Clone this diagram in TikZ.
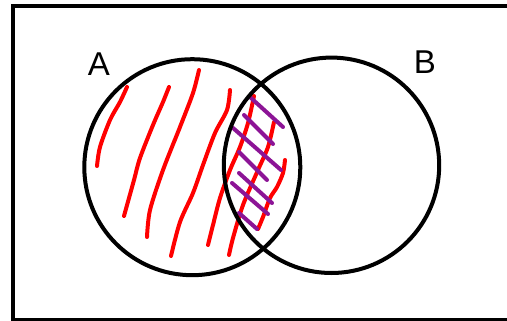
\documentclass[tikz,border=0pt]{standalone}
\usepackage{fontspec}
\setmainfont{Liberation Sans}
\definecolor{hatchred}{RGB}{255,0,0}
\definecolor{hatchpurple}{RGB}{140,20,150}
\begin{document}
\begin{tikzpicture}[x=1pt,y=-1pt,
  outline/.style={line width=4pt,black},
  redstroke/.style={line width=4pt,hatchred,line cap=round,line join=round},
  purplestroke/.style={line width=4pt,hatchpurple,line cap=round},
  setlabel/.style={font=\fontsize{33}{33}\selectfont,inner sep=0pt}]
\useasboundingbox (0,0) rectangle (507,321);
\clip (0,0) rectangle (507,321);
\fill[white] (0,0) rectangle (507,321);
% frame
\draw[outline] (12.5,6.5) rectangle (530,319.5);
% red hatching
\draw[redstroke] plot[smooth] coordinates {(127,87) (120,102) (110,120) (100,147) (97,166)};
\draw[redstroke] plot[smooth] coordinates {(169,87) (163,102) (153,125) (140,158) (134,180) (124,216)};
\draw[redstroke] plot[smooth] coordinates {(199,70) (193,93) (180,127) (163,170) (150,210) (147,237)};
\draw[redstroke] plot[smooth] coordinates {(230,90) (227,110) (215,133) (203,165) (193,193) (180,222) (171,256)};
\draw[redstroke] plot[smooth] coordinates {(254,96) (248,123) (240,147) (230,170) (220,198) (213,225) (208,245)};
\draw[redstroke] plot[smooth] coordinates {(274,122) (268,147) (258,170) (243,205) (233,238) (229,255)};
\draw[redstroke] plot[smooth] coordinates {(285,160) (283,173) (277,187) (270,198) (263,217) (258,229)};
% purple hatching
\draw[purplestroke] (251,98) -- (283,127);
\draw[purplestroke] (244,115) -- (273,144);
\draw[purplestroke] (233,128) -- (281,170);
\draw[purplestroke] (239,152) -- (267,180);
\draw[purplestroke] (239,173) -- (272,203);
\draw[purplestroke] (232,183) -- (268,214);
\draw[purplestroke] (239,213) -- (257,229);
% circles
\draw[outline] (192.3,167.2) circle[radius=108];
\draw[outline] (331.5,165.3) circle[radius=107.7];
% labels
\node[setlabel] (labelA) at (99,64) {A};
\node[setlabel] (labelB) at (425,62) {B};
\end{tikzpicture}
\end{document}
